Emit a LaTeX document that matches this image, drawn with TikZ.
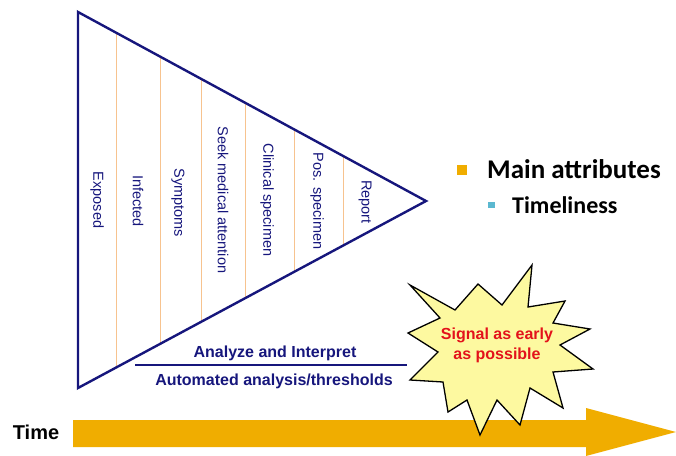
\documentclass[tikz,border=0pt]{standalone}
\usepackage{fontspec}
\setmainfont{Liberation Sans}
\newfontfamily\legendfont{Carlito}
\usetikzlibrary{calc}

\definecolor{navy}{HTML}{16167C}
\definecolor{stageline}{HTML}{F7C38F}
\definecolor{timegold}{HTML}{F0AD00}
\definecolor{burst}{HTML}{FDF9A0}
\definecolor{alertred}{HTML}{E3121B}
\definecolor{tealbox}{HTML}{5BB8D0}

\tikzset{
  stagelabel/.style={rotate=-90, text=navy, inner sep=0pt,
    font=\fontsize{14.5}{17}\selectfont},
  divider/.style={draw=stageline, line width=1pt},
  bottomlabel/.style={text=navy, inner sep=0pt,
    font=\bfseries\fontsize{16}{19}\selectfont},
  legendtext/.style={inner sep=0pt, font=\legendfont\bfseries},
}

\begin{document}
\begin{tikzpicture}[x=1pt, y=-1pt]
\useasboundingbox (0,0) rectangle (676,455);

% funnel of reporting stages
\coordinate (A) at (78,12);
\coordinate (B) at (78,388);
\coordinate (R) at (426,201);

\foreach \f in {0.112,0.2385,0.3563,0.4799,0.6207,0.7615}
  \draw[divider] ($(A)!\f!(R)$) -- ($(B)!\f!(R)$);

\draw[navy, line width=2.4pt, line join=miter] (A) -- (R) -- (B) -- cycle;

\node[stagelabel] (exposed)  at (97,200)  {Exposed};
\node[stagelabel] (infected) at (138,201) {Infected};
\node[stagelabel] (symptoms) at (178,203) {Symptoms};
\node[stagelabel] (seek)     at (223,200) {Seek medical attention};
\node[stagelabel] (clinical) at (267,200) {Clinical specimen};
\node[stagelabel] (pos)      at (317,201) {Pos. specimen};
\node[stagelabel] (report)   at (365,202) {Report};

% analysis caption
\node[bottomlabel] (analyze) at (275,353) {Analyze and Interpret};
\coordinate (ruleL) at (135,365);
\coordinate (ruleR) at (407,365);
\draw[navy, line width=2.4pt] (ruleL) -- (ruleR);
\node[bottomlabel] (automated) at (274,381) {Automated analysis/thresholds};

% legend
\fill[timegold] (457,165) rectangle (467,175);
\node[legendtext, anchor=base west, font=\legendfont\bfseries\fontsize{27}{30}\selectfont]
  (mainattr) at (487,178) {Main attributes};
\fill[tealbox] (488,202) rectangle (495,208);
\node[legendtext, anchor=base west, font=\legendfont\bfseries\fontsize{24}{27}\selectfont]
  (timeliness) at (512,213) {Timeliness};

% time axis
\fill[timegold] (73,420) -- (586,420) -- (586,408) -- (676,432)
  -- (586,456) -- (586,447) -- (73,447) -- cycle;
\node[inner sep=0pt, font=\bfseries\fontsize{20}{24}\selectfont] (time) at (36,432) {Time};

% early-signal burst
\draw[fill=burst, draw=black, line width=1.3pt, line join=miter]
  (532,265) -- (528,307) -- (565,301) -- (553,323) -- (590,329)
  -- (560,345) -- (593,369) -- (553,372) -- (563,408) -- (530,388)
  -- (520,425) -- (497,400) -- (480,435) -- (467,400) -- (448,412)
  -- (443,382) -- (410,380) -- (438,352) -- (408,333) -- (440,318)
  -- (410,285) -- (455,310) -- (478,284) -- (502,305) -- cycle;
\node[text=alertred, align=center, inner sep=0pt,
  font=\bfseries\fontsize{16}{20}\selectfont] (signal) at (497,345)
  {Signal as early\\as possible};
\end{tikzpicture}
\end{document}
